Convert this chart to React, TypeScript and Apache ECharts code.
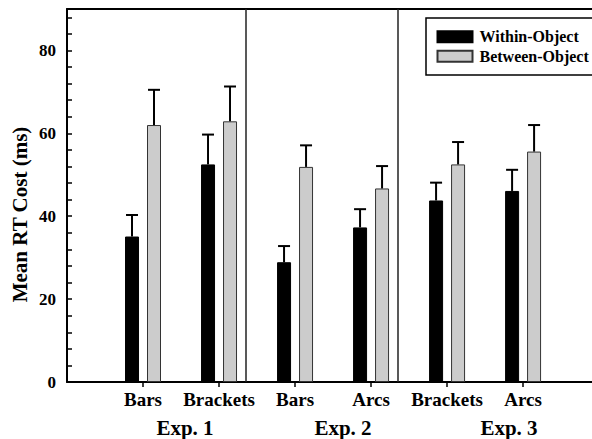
import React, { useEffect, useRef } from "react";
import * as echarts from "echarts";

const categories = ["Bars", "Brackets", "Bars", "Arcs", "Brackets", "Arcs"];
const seriesNames = ["Within-Object", "Between-Object"];
const withinMeans = [35.1, 52.5, 28.9, 37.3, 43.8, 46.1];
const withinErrors = [5.2, 7.2, 3.9, 4.4, 4.3, 5.1];
const betweenMeans = [62.0, 62.9, 51.9, 46.7, 52.5, 55.6];
const betweenErrors = [8.5, 8.4, 5.2, 5.4, 5.4, 6.4];
const separators = [2.5, 4.5];
const expLabels = ["Exp. 1", "Exp. 2", "Exp. 3"];
const expLabelX = [185, 343, 509];
const yTitle = "Mean RT Cost (ms)";

const FONT = "'Liberation Serif', 'Times New Roman', serif";

function errorSeries(means: number[], errs: number[], offset: number) {
  return {
    type: "custom",
    xAxisIndex: 0,
    yAxisIndex: 0,
    z: 5,
    silent: true,
    encode: { x: 0, y: [1, 2] },
    data: means.map((m, i) => [i + 1, m, m + errs[i]]),
    renderItem: (params: any, api: any) => {
      const x = api.value(0);
      const p0 = api.coord([x, api.value(1)]);
      const p1 = api.coord([x, api.value(2)]);
      const cx = p0[0] + offset;
      const style = { stroke: "#000", lineWidth: 2 };
      return {
        type: "group",
        children: [
          { type: "line", shape: { x1: cx, y1: p0[1], x2: cx, y2: p1[1] }, style },
          { type: "line", shape: { x1: cx - 6, y1: p1[1], x2: cx + 6, y2: p1[1] }, style },
        ],
      };
    },
  };
}

export default function App() {
  const ref = useRef<HTMLDivElement>(null);
  useEffect(() => {
    if (!ref.current) return;
    const chart = echarts.init(ref.current, null, { renderer: "svg" });
    const labelStyle = { fontFamily: FONT, fontWeight: "bold" as const, color: "#000" };
    chart.setOption({
      animation: false,
      backgroundColor: "#fff",
      grid: { left: 67, right: 0.5, top: 9, bottom: 57, outerBoundsMode: "none" },
      legend: {
        data: seriesNames,
        orient: "vertical",
        left: 426,
        top: 18,
        itemWidth: 35,
        itemHeight: 11,
        itemGap: 2,
        padding: [10, 4, 10, 10.5],
        borderColor: "#000",
        borderWidth: 1.5,
        icon: "rect",
        textStyle: { ...labelStyle, fontSize: 16, lineHeight: 17.5, padding: [0, 0, 0, 2] },
      },
      xAxis: [
        {
          type: "value",
          min: 0,
          max: 6.9,
          interval: 1,
          axisLine: { show: true, lineStyle: { color: "#000", width: 2 } },
          axisTick: {
            show: true,
            inside: false,
            length: 5,
            customValues: [1, 2, 3, 4, 5, 6],
            lineStyle: { color: "#000", width: 1.5 },
          },
          axisLabel: {
            ...labelStyle,
            fontSize: 19,
            margin: 8,
            customValues: [1, 2, 3, 4, 5, 6],
            formatter: (v: number) => categories[Math.round(v) - 1] ?? "",
          },
          splitLine: { show: false },
        },
        {
          type: "value",
          position: "top",
          min: 0,
          max: 6.9,
          interval: 1,
          axisLine: { show: true, onZero: false, lineStyle: { color: "#000", width: 2 } },
          axisTick: { show: false },
          axisLabel: { show: false },
          splitLine: { show: false },
        },
      ],
      yAxis: {
        type: "value",
        min: 0,
        max: 90,
        interval: 4,
        axisLine: { show: true, lineStyle: { color: "#000", width: 2 } },
        axisTick: { show: true, inside: true, length: 5, lineStyle: { color: "#000", width: 1.5 } },
        axisLabel: {
          ...labelStyle,
          fontSize: 17,
          margin: 11,
          formatter: (v: number) => (v % 20 === 0 ? String(v) : ""),
        },
        splitLine: { show: false },
      },
      series: [
        {
          name: seriesNames[0],
          type: "bar",
          barWidth: 14,
          barGap: "57%",
          itemStyle: { color: "#000", borderColor: "#000", borderWidth: 1 },
          data: withinMeans.map((v, i) => [i + 1, v]),
          markLine: {
            silent: true,
            symbol: "none",
            label: { show: false },
            lineStyle: { type: "solid", color: "#222", width: 1.5 },
            data: separators.map((s) => ({ xAxis: s })),
          },
        },
        {
          name: seriesNames[1],
          type: "bar",
          barWidth: 14,
          barGap: "57%",
          itemStyle: { color: "#cccccc", borderColor: "#333", borderWidth: 1 },
          data: betweenMeans.map((v, i) => [i + 1, v]),
        },
        errorSeries(withinMeans, withinErrors, -11),
        errorSeries(betweenMeans, betweenErrors, 11),
      ],
      graphic: [
        ...expLabels.map((t, i) => ({
          type: "text",
          x: expLabelX[i],
          y: 428,
          style: {
            text: t,
            fontFamily: FONT,
            fontWeight: "bold",
            fontSize: 21,
            fill: "#000",
            align: "center",
            verticalAlign: "middle",
          },
        })),
        {
          type: "text",
          x: 20,
          y: 214.5,
          rotation: Math.PI / 2,
          style: {
            text: yTitle,
            fontFamily: FONT,
            fontWeight: "bold",
            fontSize: 21,
            fill: "#000",
            align: "center",
            verticalAlign: "middle",
          },
        },
      ],
    });
    return () => chart.dispose();
  }, []);
  return (
    <div
      ref={ref}
      style={{ position: "fixed", left: 0, top: 0, width: 592, height: 439 }}
    />
  );
}
